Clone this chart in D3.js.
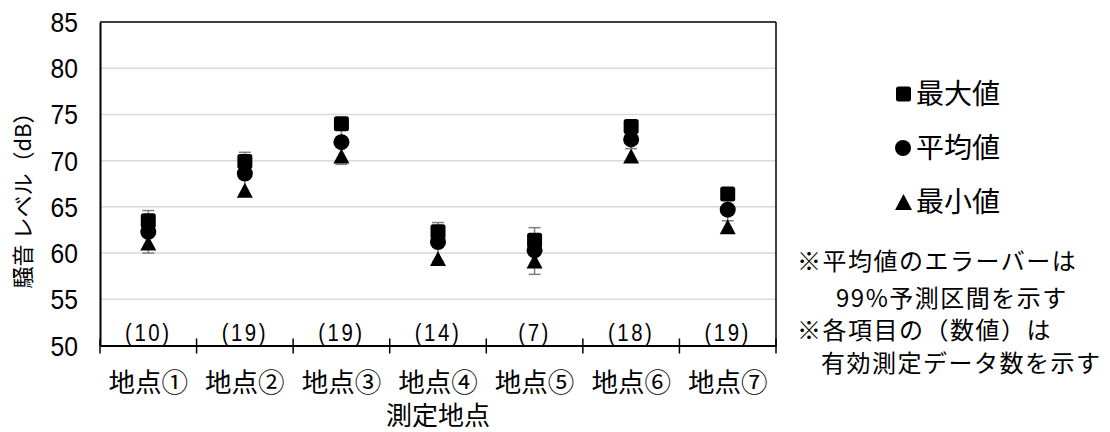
<!DOCTYPE html>
<html><head><meta charset="utf-8">
<script src="https://cdn.jsdelivr.net/npm/d3@7"></script>
<style>
html,body{margin:0;padding:0;background:#fff;}
svg{display:block;}
.jp{font-family:"Noto Sans CJK JP","Noto Sans",sans-serif;}
.num{font-family:"Liberation Sans","Arial",sans-serif;}
</style></head>
<body>
<svg id="c" width="1110" height="432"></svg>
<script>
const categories = ["地点①","地点②","地点③","地点④","地点⑤","地点⑥","地点⑦"];
const counts = ["(10)","(19)","(19)","(14)","(7)","(18)","(19)"];
const maxValues = [63.5, 69.9, 74.0, 62.3, 61.4, 73.7, 66.4];
const meanValues = [62.3, 68.6, 72.0, 61.2, 60.3, 72.3, 64.7];
const minValues = [61.1, 66.8, 70.5, 59.4, 59.15, 70.5, 62.85];
const errHigh = [64.6, 70.9, 74.4, 63.3, 62.75, 73.3, 65.9];
const errLow = [60.0, 66.2, 69.6, 59.1, 57.7, 71.3, 63.5];
const yTicks = [50,55,60,65,70,75,80,85];
const legendLabels = ["最大値","平均値","最小値"];
const noteLines = ["※平均値のエラーバーは","99%予測区間を示す","※各項目の（数値）は","有効測定データ数を示す"];

const svg = d3.select("#c");
const L = 100, R = 776, T = 22, B = 345.5;
const x = d3.scaleBand().domain(categories).range([L, R]);
const y = d3.scaleLinear().domain([50, 85]).range([B, T]);
const cx = i => x(categories[i]) + x.bandwidth() / 2;

// gridlines
svg.append("g").selectAll("line").data(yTicks.filter(v => v > 50 && v < 85)).join("line")
  .attr("x1", L).attr("x2", R).attr("y1", d => y(d)).attr("y2", d => y(d))
  .attr("stroke", "#d9d9d9").attr("stroke-width", 1.5);

// plot border top/right
svg.append("line").attr("x1", L).attr("x2", R).attr("y1", y(85)).attr("y2", y(85)).attr("stroke", "#000").attr("stroke-width", 1.5);
svg.append("line").attr("x1", R).attr("x2", R).attr("y1", y(85)).attr("y2", y(50)).attr("stroke", "#000").attr("stroke-width", 1.5);

// y axis (line + condensed tick labels)
const yAxis = d3.axisLeft(y).tickValues(yTicks).tickSize(0).tickFormat("");
const yg = svg.append("g").attr("transform", `translate(${L},0)`).call(yAxis);
yg.select(".domain").attr("stroke", "#000").attr("stroke-width", 2);
svg.append("g").selectAll("text").data(yTicks).join("text")
  .attr("class", "num").attr("transform", d => `translate(78,${y(d) + 10}) scale(0.88,1)`)
  .attr("text-anchor", "end").attr("font-size", 28).attr("fill", "#000").text(d3.format("d"));

// x axis
const xAxis = d3.axisBottom(x).tickSize(0).tickFormat("");
const xg = svg.append("g").attr("transform", `translate(0,${B})`).call(xAxis);
xg.select(".domain").attr("stroke", "#000").attr("stroke-width", 2);
xg.selectAll(".tick").remove();
const bounds = categories.map(c => x(c)).concat([R]);
svg.append("g").selectAll("line").data(bounds).join("line")
  .attr("x1", d => d).attr("x2", d => d).attr("y1", B - 7).attr("y2", B + 8)
  .attr("stroke", "#000").attr("stroke-width", 1.5);

// category labels
svg.append("g").selectAll("text").data(categories).join("text")
  .attr("class", "jp").attr("x", d => x(d) + x.bandwidth() / 2).attr("y", 392)
  .attr("text-anchor", "middle").attr("font-size", 26.5).attr("fill", "#000").text(d => d);

// count labels (condensed)
svg.append("g").selectAll("text").data(counts).join("text")
  .attr("class", "num").attr("transform", (d, i) => `translate(${cx(i)},341) scale(0.85,1)`)
  .attr("text-anchor", "middle").attr("font-size", 24).attr("letter-spacing", 3).attr("fill", "#000").text(d => d);

// axis titles
svg.append("text").attr("class", "jp").attr("x", 438).attr("y", 425)
  .attr("text-anchor", "middle").attr("font-size", 26).attr("fill", "#000").text("測定地点");
svg.append("text").attr("class", "jp").attr("transform", "translate(31,195) rotate(-90)")
  .attr("text-anchor", "middle").attr("font-size", 22).attr("fill", "#000").text("騒音 レベル（dB）");

// error bars
const eb = svg.append("g").attr("stroke", "#7f7f7f").attr("stroke-width", 1.5);
meanValues.forEach((m, i) => {
  eb.append("line").attr("x1", cx(i)).attr("x2", cx(i)).attr("y1", y(errHigh[i])).attr("y2", y(errLow[i]));
  eb.append("line").attr("x1", cx(i) - 6).attr("x2", cx(i) + 6).attr("y1", y(errHigh[i])).attr("y2", y(errHigh[i]));
  eb.append("line").attr("x1", cx(i) - 6).attr("x2", cx(i) + 6).attr("y1", y(errLow[i])).attr("y2", y(errLow[i]));
});

// markers
const sq = 15;
svg.append("g").selectAll("rect").data(maxValues).join("rect")
  .attr("x", (d, i) => cx(i) - sq / 2).attr("y", d => y(d) - sq / 2)
  .attr("width", sq).attr("height", sq).attr("rx", 2.5).attr("fill", "#000");
svg.append("g").selectAll("circle").data(meanValues).join("circle")
  .attr("cx", (d, i) => cx(i)).attr("cy", d => y(d)).attr("r", 8).attr("fill", "#000");
const tri = (px, py, w, h) => `M${px},${py - h / 2}L${px + w / 2},${py + h / 2}L${px - w / 2},${py + h / 2}Z`;
svg.append("g").selectAll("path").data(minValues).join("path")
  .attr("d", (d, i) => tri(cx(i), y(d), 16, 15)).attr("fill", "#000");

// legend
const lg = svg.append("g");
const ly = [94, 148, 202];
lg.append("rect").attr("x", 896).attr("y", ly[0] - 7.5).attr("width", 15).attr("height", 15).attr("rx", 2.5).attr("fill", "#000");
lg.append("circle").attr("cx", 903).attr("cy", ly[1]).attr("r", 8).attr("fill", "#000");
lg.append("path").attr("d", tri(903.5, ly[2], 17, 16)).attr("fill", "#000");
lg.selectAll("text").data(legendLabels).join("text")
  .attr("class", "jp").attr("x", 916).attr("y", (d, i) => ly[i] + 10)
  .attr("font-size", 28).attr("fill", "#000").text(d => d);

// notes
const noteX = [797, 836, 797, 821];
const noteY = [270, 307, 339, 372];
svg.append("g").selectAll("text").data(noteLines).join("text")
  .attr("class", "jp").attr("x", (d, i) => noteX[i]).attr("y", (d, i) => noteY[i])
  .attr("font-size", 24).attr("letter-spacing", 1.5).attr("fill", "#000").text(d => d);
</script>
</body></html>
